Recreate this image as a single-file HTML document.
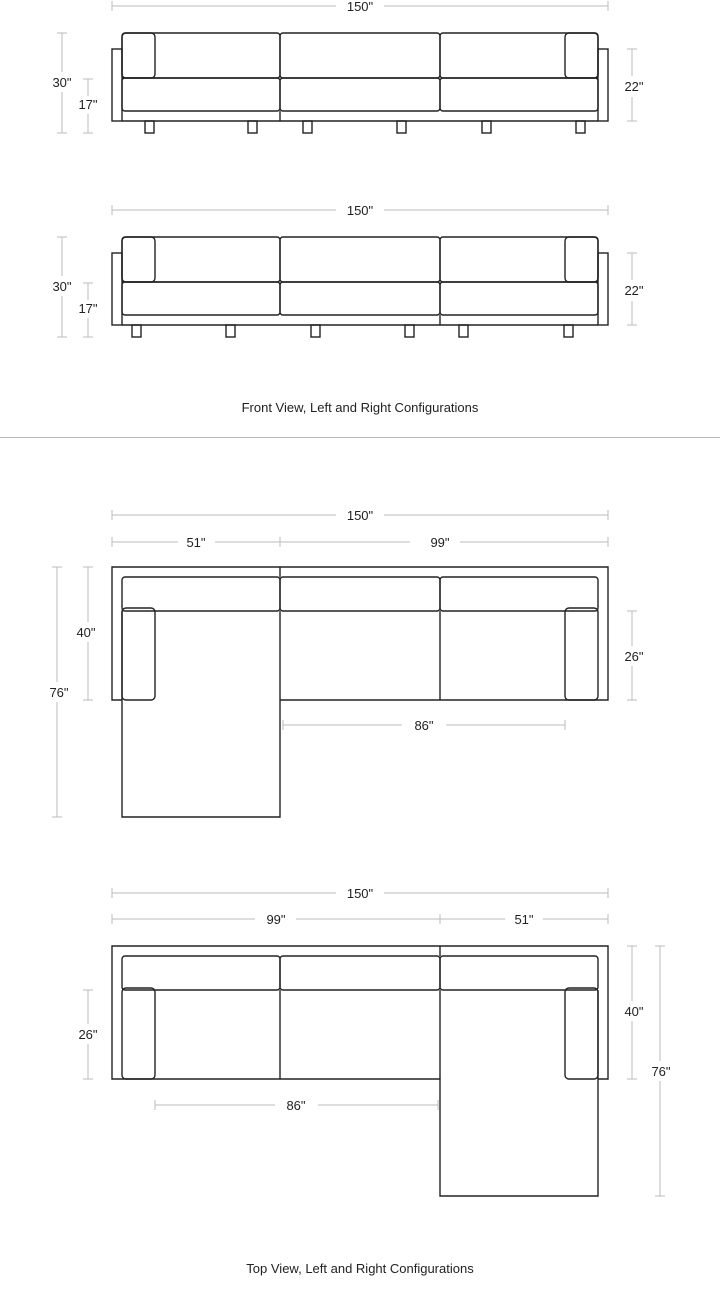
<!DOCTYPE html>
<html><head><meta charset="utf-8"><style>
html,body{margin:0;padding:0;background:#fff;}
svg{display:block;}
text{font-family:"Liberation Sans",sans-serif;font-size:13px;fill:#222;}
.d{stroke:#bbb;stroke-width:1;fill:none;}
.s{stroke:#222;stroke-width:1.4;fill:none;}
.c{text-anchor:middle;}
</style></head><body>
<svg width="720" height="1299" viewBox="0 0 720 1299" xmlns="http://www.w3.org/2000/svg">
<g>
<line class="d" x1="112" y1="6" x2="336" y2="6"/><line class="d" x1="384" y1="6" x2="608" y2="6"/>
<line class="d" x1="112" y1="1" x2="112" y2="11"/><line class="d" x1="608" y1="1" x2="608" y2="11"/>
<text class="c" x="360" y="11">150"</text>
<line class="d" x1="62" y1="33" x2="62" y2="72"/><line class="d" x1="62" y1="92" x2="62" y2="133"/>
<line class="d" x1="57" y1="33" x2="67" y2="33"/><line class="d" x1="57" y1="133" x2="67" y2="133"/>
<text class="c" x="62" y="87">30"</text>
<line class="d" x1="88" y1="79" x2="88" y2="96"/><line class="d" x1="88" y1="114" x2="88" y2="133"/>
<line class="d" x1="83" y1="79" x2="93" y2="79"/><line class="d" x1="83" y1="133" x2="93" y2="133"/>
<text class="c" x="88" y="109">17"</text>
<line class="d" x1="632" y1="49" x2="632" y2="76"/><line class="d" x1="632" y1="97" x2="632" y2="121"/>
<line class="d" x1="627" y1="49" x2="637" y2="49"/><line class="d" x1="627" y1="121" x2="637" y2="121"/>
<text class="c" x="634" y="91">22"</text>
<rect class="s" x="112" y="49" width="10" height="72"/>
<rect class="s" x="598" y="49" width="10" height="72"/>
<line class="s" x1="122" y1="121" x2="598" y2="121"/>
<rect class="s" x="122" y="33" width="158" height="45" rx="3"/>
<rect class="s" x="280" y="33" width="160" height="45" rx="3"/>
<rect class="s" x="440" y="33" width="158" height="45" rx="3"/>
<rect class="s" x="122" y="33" width="33" height="45" rx="4"/>
<rect class="s" x="565" y="33" width="33" height="45" rx="4"/>
<rect class="s" x="122" y="78" width="158" height="33" rx="3"/>
<rect class="s" x="280" y="78" width="160" height="33" rx="3"/>
<rect class="s" x="440" y="78" width="158" height="33" rx="3"/>
<line class="s" x1="280" y1="111" x2="280" y2="121"/>
<rect class="s" x="145" y="121" width="9" height="12"/><rect class="s" x="248" y="121" width="9" height="12"/>
<rect class="s" x="303" y="121" width="9" height="12"/><rect class="s" x="397" y="121" width="9" height="12"/>
<rect class="s" x="482" y="121" width="9" height="12"/><rect class="s" x="576" y="121" width="9" height="12"/>
</g>
<g>
<line class="d" x1="112" y1="210" x2="336" y2="210"/><line class="d" x1="384" y1="210" x2="608" y2="210"/>
<line class="d" x1="112" y1="205" x2="112" y2="215"/><line class="d" x1="608" y1="205" x2="608" y2="215"/>
<text class="c" x="360" y="215">150"</text>
<line class="d" x1="62" y1="237" x2="62" y2="276"/><line class="d" x1="62" y1="296" x2="62" y2="337"/>
<line class="d" x1="57" y1="237" x2="67" y2="237"/><line class="d" x1="57" y1="337" x2="67" y2="337"/>
<text class="c" x="62" y="291">30"</text>
<line class="d" x1="88" y1="283" x2="88" y2="300"/><line class="d" x1="88" y1="318" x2="88" y2="337"/>
<line class="d" x1="83" y1="283" x2="93" y2="283"/><line class="d" x1="83" y1="337" x2="93" y2="337"/>
<text class="c" x="88" y="313">17"</text>
<line class="d" x1="632" y1="253" x2="632" y2="280"/><line class="d" x1="632" y1="301" x2="632" y2="325"/>
<line class="d" x1="627" y1="253" x2="637" y2="253"/><line class="d" x1="627" y1="325" x2="637" y2="325"/>
<text class="c" x="634" y="295">22"</text>
<rect class="s" x="112" y="253" width="10" height="72"/>
<rect class="s" x="598" y="253" width="10" height="72"/>
<line class="s" x1="122" y1="325" x2="598" y2="325"/>
<rect class="s" x="122" y="237" width="158" height="45" rx="3"/>
<rect class="s" x="280" y="237" width="160" height="45" rx="3"/>
<rect class="s" x="440" y="237" width="158" height="45" rx="3"/>
<rect class="s" x="122" y="237" width="33" height="45" rx="4"/>
<rect class="s" x="565" y="237" width="33" height="45" rx="4"/>
<rect class="s" x="122" y="282" width="158" height="33" rx="3"/>
<rect class="s" x="280" y="282" width="160" height="33" rx="3"/>
<rect class="s" x="440" y="282" width="158" height="33" rx="3"/>
<line class="s" x1="440" y1="315" x2="440" y2="325"/>
<rect class="s" x="132" y="325" width="9" height="12"/><rect class="s" x="226" y="325" width="9" height="12"/>
<rect class="s" x="311" y="325" width="9" height="12"/><rect class="s" x="405" y="325" width="9" height="12"/>
<rect class="s" x="459" y="325" width="9" height="12"/><rect class="s" x="564" y="325" width="9" height="12"/>
</g>
<text class="c" x="360" y="412">Front View, Left and Right Configurations</text>
<line x1="0" y1="437.5" x2="720" y2="437.5" stroke="#bbb" stroke-width="1"/>

<g>
<line class="d" x1="112" y1="515" x2="336" y2="515"/><line class="d" x1="384" y1="515" x2="608" y2="515"/>
<line class="d" x1="112" y1="510" x2="112" y2="520"/><line class="d" x1="608" y1="510" x2="608" y2="520"/>
<text class="c" x="360" y="520">150"</text>
<line class="d" x1="112" y1="542" x2="178" y2="542"/><line class="d" x1="215" y1="542" x2="280" y2="542"/>
<line class="d" x1="280" y1="542" x2="410" y2="542"/><line class="d" x1="460" y1="542" x2="608" y2="542"/>
<line class="d" x1="112" y1="537" x2="112" y2="547"/><line class="d" x1="280" y1="537" x2="280" y2="547"/><line class="d" x1="608" y1="537" x2="608" y2="547"/>
<text class="c" x="196" y="547">51"</text><text class="c" x="440" y="547">99"</text>
<line class="d" x1="57" y1="567" x2="57" y2="682"/><line class="d" x1="57" y1="702" x2="57" y2="817"/>
<line class="d" x1="52" y1="567" x2="62" y2="567"/><line class="d" x1="52" y1="817" x2="62" y2="817"/>
<text class="c" x="59" y="697">76"</text>
<line class="d" x1="88" y1="567" x2="88" y2="622"/><line class="d" x1="88" y1="642" x2="88" y2="700"/>
<line class="d" x1="83" y1="567" x2="93" y2="567"/><line class="d" x1="83" y1="700" x2="93" y2="700"/>
<text class="c" x="86" y="637">40"</text>
<line class="d" x1="632" y1="611" x2="632" y2="646"/><line class="d" x1="632" y1="666" x2="632" y2="700"/>
<line class="d" x1="627" y1="611" x2="637" y2="611"/><line class="d" x1="627" y1="700" x2="637" y2="700"/>
<text class="c" x="634" y="661">26"</text>
<line class="d" x1="283" y1="725" x2="402" y2="725"/><line class="d" x1="446" y1="725" x2="565" y2="725"/>
<line class="d" x1="283" y1="720" x2="283" y2="730"/><line class="d" x1="565" y1="720" x2="565" y2="730"/>
<text class="c" x="424" y="730">86"</text>
<path class="s" d="M122,700 H112 V567 H608 V700 H598"/>
<line class="s" x1="280" y1="567" x2="280" y2="577"/>
<rect class="s" x="122" y="577" width="158" height="34" rx="3"/>
<rect class="s" x="280" y="577" width="160" height="34" rx="3"/>
<rect class="s" x="440" y="577" width="158" height="34" rx="3"/>
<path class="s" d="M122,611 V817 H280 V611"/>
<line class="s" x1="280" y1="700" x2="598" y2="700"/>
<line class="s" x1="440" y1="611" x2="440" y2="700"/>
<rect class="s" x="122" y="608" width="33" height="92" rx="4"/>
<rect class="s" x="565" y="608" width="33" height="92" rx="4"/>
</g>
<g>
<line class="d" x1="112" y1="893" x2="336" y2="893"/><line class="d" x1="384" y1="893" x2="608" y2="893"/>
<line class="d" x1="112" y1="888" x2="112" y2="898"/><line class="d" x1="608" y1="888" x2="608" y2="898"/>
<text class="c" x="360" y="898">150"</text>
<line class="d" x1="112" y1="919" x2="255" y2="919"/><line class="d" x1="296" y1="919" x2="440" y2="919"/>
<line class="d" x1="440" y1="919" x2="505" y2="919"/><line class="d" x1="543" y1="919" x2="608" y2="919"/>
<line class="d" x1="112" y1="914" x2="112" y2="924"/><line class="d" x1="440" y1="914" x2="440" y2="924"/><line class="d" x1="608" y1="914" x2="608" y2="924"/>
<text class="c" x="276" y="924">99"</text><text class="c" x="524" y="924">51"</text>
<line class="d" x1="88" y1="990" x2="88" y2="1024"/><line class="d" x1="88" y1="1044" x2="88" y2="1079"/>
<line class="d" x1="83" y1="990" x2="93" y2="990"/><line class="d" x1="83" y1="1079" x2="93" y2="1079"/>
<text class="c" x="88" y="1039">26"</text>
<line class="d" x1="632" y1="946" x2="632" y2="1001"/><line class="d" x1="632" y1="1021" x2="632" y2="1079"/>
<line class="d" x1="627" y1="946" x2="637" y2="946"/><line class="d" x1="627" y1="1079" x2="637" y2="1079"/>
<text class="c" x="634" y="1016">40"</text>
<line class="d" x1="660" y1="946" x2="660" y2="1061"/><line class="d" x1="660" y1="1081" x2="660" y2="1196"/>
<line class="d" x1="655" y1="946" x2="665" y2="946"/><line class="d" x1="655" y1="1196" x2="665" y2="1196"/>
<text class="c" x="661" y="1076">76"</text>
<line class="d" x1="155" y1="1105" x2="275" y2="1105"/><line class="d" x1="318" y1="1105" x2="438" y2="1105"/>
<line class="d" x1="155" y1="1100" x2="155" y2="1110"/><line class="d" x1="438" y1="1100" x2="438" y2="1110"/>
<text class="c" x="296" y="1110">86"</text>
<path class="s" d="M122,1079 H112 V946 H608 V1079 H598"/>
<line class="s" x1="440" y1="946" x2="440" y2="956"/>
<rect class="s" x="122" y="956" width="158" height="34" rx="3"/>
<rect class="s" x="280" y="956" width="160" height="34" rx="3"/>
<rect class="s" x="440" y="956" width="158" height="34" rx="3"/>
<path class="s" d="M122,1079 H440 V1196 H598 V990"/>
<line class="s" x1="280" y1="990" x2="280" y2="1079"/>
<line class="s" x1="440" y1="990" x2="440" y2="1079"/>
<rect class="s" x="122" y="988" width="33" height="91" rx="4"/>
<rect class="s" x="565" y="988" width="33" height="91" rx="4"/>
</g>
<text class="c" x="360" y="1273">Top View, Left and Right Configurations</text>
</svg>
</body></html>
